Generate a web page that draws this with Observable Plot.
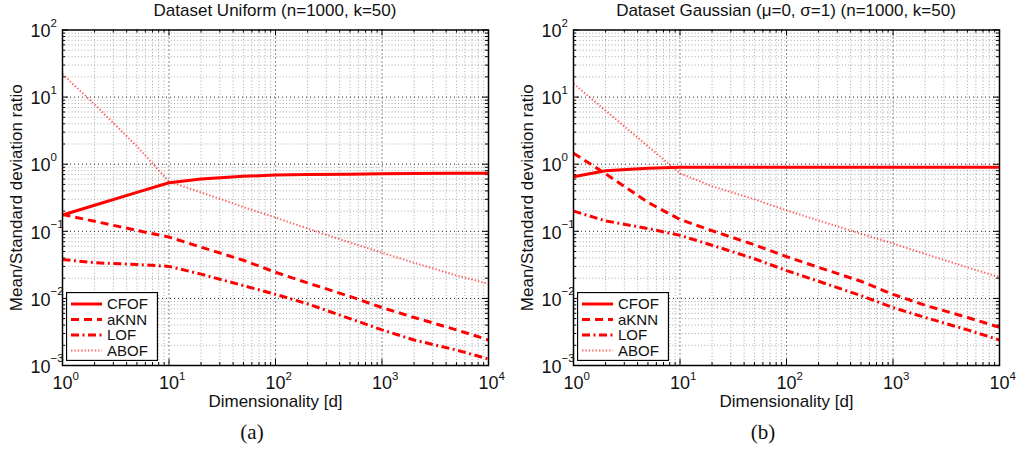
<!DOCTYPE html>
<html><head><meta charset="utf-8">
<script src="https://cdn.jsdelivr.net/npm/d3@7"></script>
<script src="https://cdn.jsdelivr.net/npm/@observablehq/plot@0.6"></script>
<style>
body{margin:0;background:#fff;font-family:"Liberation Sans",Arial,Helvetica,sans-serif;}
#wrap{position:relative;width:1022px;height:456px;display:flex;overflow:hidden;}
.panel{position:relative;width:511px;height:456px;}
.title{height:22px;line-height:22px;box-sizing:border-box;padding-left:62px;padding-right:23px;text-align:center;font-size:17px;color:#111;white-space:nowrap;}
.cap{position:absolute;left:0;top:420px;width:504px;text-align:center;font-family:"Liberation Serif","DejaVu Serif",serif;font-size:21px;color:#111;}
.legend{position:absolute;left:66px;top:292px;}
svg{display:block;}
</style></head>
<body><div id="wrap"></div>
<script>
// ---- data ----
const dims = [1, 2, 5, 10, 20, 50, 100, 200, 500, 1000, 2000, 5000, 10000];
const uniformCFOF = [0.175, 0.244, 0.38, 0.53, 0.60, 0.66, 0.69, 0.70, 0.71, 0.72, 0.725, 0.73, 0.73];
const uniformAKNN = [0.178, 0.141, 0.103, 0.082, 0.058, 0.037, 0.0245, 0.017, 0.0107, 0.0073, 0.0052, 0.0034, 0.0024];
const uniformLOF  = [0.038, 0.034, 0.032, 0.030, 0.023, 0.0155, 0.0115, 0.0083, 0.0050, 0.0034, 0.0024, 0.0017, 0.00125];
const uniformABOF = [22, 7.8, 1.85, 0.55, 0.38, 0.23, 0.16, 0.11, 0.068, 0.048, 0.034, 0.022, 0.0165];
const gaussCFOF = [0.65, 0.80, 0.87, 0.90, 0.90, 0.90, 0.90, 0.90, 0.90, 0.90, 0.90, 0.90, 0.90];
const gaussAKNN = [1.46, 0.72, 0.27, 0.15, 0.102, 0.063, 0.042, 0.029, 0.018, 0.0115, 0.0079, 0.0052, 0.0037];
const gaussLOF  = [0.20, 0.143, 0.11, 0.087, 0.062, 0.039, 0.026, 0.018, 0.011, 0.0073, 0.0052, 0.0034, 0.0024];
const gaussABOF = [15.8, 6.3, 1.85, 0.73, 0.47, 0.30, 0.205, 0.145, 0.092, 0.066, 0.046, 0.029, 0.0207];
const seriesNames = ["CFOF", "aKNN", "LOF", "ABOF"];
const xTicks = [1, 10, 100, 1000, 10000];
const xExp = ["0", "1", "2", "3", "4"];
const yTicks = [1e-3, 1e-2, 1e-1, 1, 10, 100];
const yExp = ["\u22123", "\u22122", "\u22121", "0", "1", "2"];
const titles = ["Dataset Uniform (n=1000, k=50)", "Dataset Gaussian (\u03bc=0, \u03c3=1) (n=1000, k=50)"];
const captions = ["(a)", "(b)"];
const xLabel = "Dimensionality [d]";
const yLabel = "Mean/Standard deviation ratio";

// ---- styles ----
const RED = "#ff0000";
const styles = {
  CFOF: {strokeWidth: 3, strokeDasharray: null, strokeOpacity: 1},
  aKNN: {strokeWidth: 3, strokeDasharray: "8,5", strokeOpacity: 1},
  LOF:  {strokeWidth: 3, strokeDasharray: "8,3.5,2,3.5", strokeOpacity: 1},
  ABOF: {strokeWidth: 2, strokeDasharray: "1.4,2", strokeOpacity: 0.6}
};

function minorTicks(e0, e1) {
  const out = [];
  for (let e = e0; e < e1; e++) for (let k = 2; k <= 9; k++) out.push(k * Math.pow(10, e));
  return out;
}
const xMinor = minorTicks(0, 4);
const yMinor = minorTicks(-3, 2);

function makeTable(arrs) {
  const rows = [];
  seriesNames.forEach((s, i) => dims.forEach((d, j) => rows.push({series: s, d, v: arrs[i][j]})));
  return rows;
}

const FH = 394 - 7.5 - 51; // frame height
const FW = 511 - 62 - 23;  // frame width

function panel(rows) {
  const lineMarks = seriesNames.map(s => Plot.line(rows.filter(r => r.series === s), {
    x: "d", y: "v", stroke: RED, ...styles[s], strokeLinecap: "butt", strokeLinejoin: "round"
  }));
  const T = {fill: "#111", lineAnchor: "middle"};
  return Plot.plot({
    width: 511, height: 394,
    marginLeft: 62, marginRight: 23, marginTop: 7.5, marginBottom: 51,
    style: {fontFamily: "'Liberation Sans', Arial, sans-serif", background: "transparent", overflow: "visible"},
    x: {type: "log", domain: [1, 1e4], axis: null},
    y: {type: "log", domain: [1e-3, 1e2], axis: null},
    marks: [
      Plot.ruleX(xMinor, {stroke: "#a8a8a8", strokeWidth: 1, strokeDasharray: "1,2.2"}),
      Plot.ruleY(yMinor, {stroke: "#a8a8a8", strokeWidth: 1, strokeDasharray: "1,2.2"}),
      Plot.ruleX(xTicks.slice(1, -1), {stroke: "#222", strokeWidth: 1, strokeDasharray: "1,3"}),
      Plot.ruleY(yTicks.slice(1, -1), {stroke: "#222", strokeWidth: 1, strokeDasharray: "1,3"}),
      // inward ticks
      Plot.tickX(xTicks, {stroke: "#000", insetTop: FH - 6}),
      Plot.tickX(xTicks, {stroke: "#000", insetBottom: FH - 6}),
      Plot.tickX(xMinor, {stroke: "#000", insetTop: FH - 3}),
      Plot.tickX(xMinor, {stroke: "#000", insetBottom: FH - 3}),
      Plot.tickY(yTicks, {stroke: "#000", insetRight: FW - 6}),
      Plot.tickY(yTicks, {stroke: "#000", insetLeft: FW - 6}),
      Plot.tickY(yMinor, {stroke: "#000", insetRight: FW - 3}),
      Plot.tickY(yMinor, {stroke: "#000", insetLeft: FW - 3}),
      ...lineMarks,
      Plot.frame({stroke: "#000", strokeWidth: 1.5}),
      // tick labels
      Plot.text(xTicks, {x: d => d, text: () => "10", frameAnchor: "bottom", dy: 18, fontSize: 18, textAnchor: "middle", ...T}),
      Plot.text(xTicks, {x: d => d, text: (d, i) => xExp[i], frameAnchor: "bottom", dx: 10, dy: 10.5, fontSize: 11.5, textAnchor: "start", ...T}),
      Plot.text(yTicks, {y: d => d, text: () => "10", frameAnchor: "left", dx: -12, dy: 1.5, fontSize: 18, textAnchor: "end", ...T}),
      Plot.text(yTicks, {y: d => d, text: (d, i) => yExp[i], frameAnchor: "left", dx: -12, dy: -7, fontSize: 11.5, textAnchor: "start", ...T}),
      // axis labels
      Plot.text([xLabel], {text: d => d, frameAnchor: "bottom", dy: 36, fontSize: 17, textAnchor: "middle", ...T}),
      Plot.text([yLabel], {text: d => d, frameAnchor: "left", dx: -46, rotate: -90, fontSize: 17, textAnchor: "middle", ...T})
    ]
  });
}

function legend() {
  const w = 92, h = 69;
  const svg = d3.create("svg").attr("width", w).attr("height", h);
  svg.append("rect").attr("x", 0.5).attr("y", 0.5).attr("width", w - 1).attr("height", h - 1)
    .attr("fill", "#fff").attr("stroke", "#000").attr("stroke-width", 1.3);
  seriesNames.forEach((s, i) => {
    const y = 12 + i * 15.5;
    const st = styles[s];
    svg.append("line").attr("x1", 5).attr("x2", 36).attr("y1", y).attr("y2", y)
      .attr("stroke", RED).attr("stroke-width", st.strokeWidth)
      .attr("stroke-dasharray", st.strokeDasharray).attr("stroke-opacity", st.strokeOpacity);
    svg.append("text").attr("x", 41).attr("y", y).attr("dy", "0.36em")
      .attr("font-size", 15).attr("fill", "#111")
      .attr("font-family", "'Liberation Sans', Arial, sans-serif").text(s);
  });
  return svg.node();
}

const wrap = document.getElementById("wrap");
const datasets = [
  makeTable([uniformCFOF, uniformAKNN, uniformLOF, uniformABOF]),
  makeTable([gaussCFOF, gaussAKNN, gaussLOF, gaussABOF])
];
datasets.forEach((rows, i) => {
  const p = document.createElement("div");
  p.className = "panel";
  const t = document.createElement("div");
  t.className = "title"; t.textContent = titles[i];
  p.appendChild(t);
  p.appendChild(panel(rows));
  const lg = document.createElement("div");
  lg.className = "legend"; lg.appendChild(legend());
  p.appendChild(lg);
  const c = document.createElement("div");
  c.className = "cap"; c.textContent = captions[i];
  p.appendChild(c);
  wrap.appendChild(p);
});
</script>
</body></html>
